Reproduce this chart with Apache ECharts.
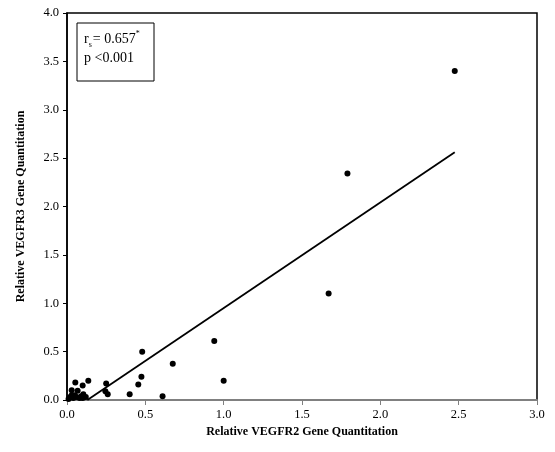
<!DOCTYPE html>
<html><head><meta charset="utf-8">
<script src="https://cdn.jsdelivr.net/npm/echarts@6/dist/echarts.min.js"></script>
<style>html,body{margin:0;padding:0;background:#fff}#c{width:555px;height:452px}</style>
</head><body><div id="c"></div>
<script>
const vegfr2 = [2.475,1.79,1.67,0.94,1.00,0.48,0.675,0.475,0.455,0.40,0.61,0.25,0.245,0.26,0.136,0.10,0.053,0.03,0.068,0.104,0.02,0.04,0.06,0.08,0.10,0.12,0.01,0.05,0.09,0.03];
const vegfr3 = [3.40,2.34,1.10,0.61,0.20,0.50,0.375,0.24,0.16,0.06,0.04,0.17,0.09,0.06,0.20,0.15,0.18,0.10,0.095,0.06,0.03,0.02,0.03,0.02,0.02,0.03,0.01,0.05,0.04,0.05];
const fitX = [0.13, 2.475];
const fitY = [0.0, 2.56];
const xTicks = ['0.0','0.5','1.0','1.5','2.0','2.5','3.0'];
const yTicks = ['0.0','0.5','1.0','1.5','2.0','2.5','3.0','3.5','4.0'];

const font = '"Liberation Serif", "Times New Roman", serif';
const chart = echarts.init(document.getElementById('c'));
chart.setOption({
  animation: false,
  backgroundColor: '#fff',
  grid: {left: 67, right: 18, top: 13, bottom: 52, show: true, borderColor: '#000', borderWidth: 1.5},
  xAxis: {
    type: 'value', min: 0, max: 3, interval: 0.5,
    name: 'Relative VEGFR2 Gene Quantitation', nameLocation: 'middle', nameGap: 25,
    nameTextStyle: {fontFamily: font, fontWeight: 'bold', fontSize: 12, color: '#000'},
    axisLine: {show: true, lineStyle: {color: '#808080', width: 2}},
    axisTick: {show: true, length: 5, lineStyle: {color: '#808080'}},
    axisLabel: {fontFamily: font, fontSize: 12.5, color: '#000', margin: 8,
      formatter: v => xTicks[Math.round(v / 0.5)]},
    splitLine: {show: false}
  },
  yAxis: {
    type: 'value', min: 0, max: 4, interval: 0.5,
    name: 'Relative VEGFR3 Gene Quantitation', nameLocation: 'middle', nameGap: 40,
    nameTextStyle: {fontFamily: font, fontWeight: 'bold', fontSize: 12, color: '#000'},
    axisLine: {show: true, lineStyle: {color: '#000', width: 1.5}},
    axisTick: {show: true, length: 4, lineStyle: {color: '#000'}},
    axisLabel: {fontFamily: font, fontSize: 12.5, color: '#000', margin: 8,
      formatter: v => yTicks[Math.round(v / 0.5)]},
    splitLine: {show: false}
  },
  graphic: [
    {type: 'rect', shape: {x: 77, y: 23, width: 77, height: 58},
     style: {fill: '#fff', stroke: '#000', lineWidth: 1}, z: 10},
    {type: 'text', left: 84, top: 30, z: 11,
     style: {
       text: '{a|r}{sub|s}{a|= 0.657}{sup|*}\n{a|p <0.001}',
       rich: {
         a: {fontFamily: font, fontSize: 14, fill: '#000', lineHeight: 19},
         sub: {fontFamily: font, fontSize: 8, fill: '#000', verticalAlign: 'bottom', padding: [6, 1, 0, 0], lineHeight: 19},
         sup: {fontFamily: font, fontSize: 8, fill: '#000', verticalAlign: 'top', padding: [0, 0, 6, 0], lineHeight: 19}
       }
     }}
  ],
  series: [
    {type: 'scatter', symbol: 'circle', symbolSize: 6,
     itemStyle: {color: '#000', opacity: 1},
     data: vegfr2.map((x, i) => [x, vegfr3[i]])},
    {type: 'line', symbol: 'none', lineStyle: {color: '#000', width: 1.8},
     data: fitX.map((x, i) => [x, fitY[i]])}
  ]
});
</script></body></html>
